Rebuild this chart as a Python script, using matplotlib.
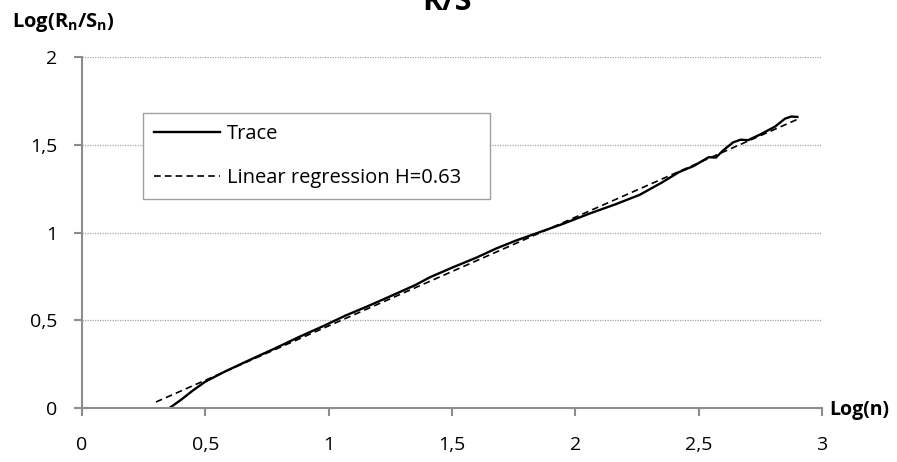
import matplotlib
matplotlib.use("Agg")
import matplotlib.pyplot as plt

plt.rcParams['font.family'] = ['Open Sans', 'DejaVu Sans']
plt.rcParams['mathtext.fontset'] = 'custom'
plt.rcParams['mathtext.rm'] = 'Open Sans'
plt.rcParams['mathtext.bf'] = 'Open Sans:bold'

# R/S trace, log10(n) against log10(R_n/S_n)
trace_x = [0.345, 0.40, 0.45, 0.50, 0.58, 0.68, 0.78, 0.88, 0.98, 1.07,
           1.15, 1.25, 1.35, 1.41, 1.50, 1.60, 1.68, 1.76, 1.86, 1.95,
           2.06, 2.16, 2.26, 2.35, 2.42, 2.48, 2.54, 2.57, 2.60, 2.64,
           2.67, 2.70, 2.75, 2.81, 2.85, 2.875, 2.90]
trace_y = [-0.01, 0.045, 0.10, 0.150, 0.208, 0.274, 0.338, 0.405, 0.468, 0.528,
           0.575, 0.637, 0.700, 0.745, 0.800, 0.858, 0.910, 0.955, 1.005, 1.050,
           1.110, 1.160, 1.215, 1.285, 1.345, 1.380, 1.430, 1.428, 1.470, 1.515,
           1.530, 1.527, 1.560, 1.605, 1.650, 1.662, 1.660]

# fitted line end points
reg_x = [0.30, 2.90]
reg_y = [0.034, 1.646]

x_ticks = [0, 0.5, 1, 1.5, 2, 2.5, 3]
y_ticks = [0, 0.5, 1, 1.5, 2]

def comma(v):
    return ('%g' % v).replace('.', ',')

grey = '#8c8c8c'
fs = 14

fig = plt.figure(figsize=(8.97, 4.62), dpi=100)
ax = fig.add_axes([0.0914, 0.117, 0.825, 0.759])

ax.plot(trace_x, trace_y, color='black', lw=1.7, label='Trace')
ax.plot(reg_x, reg_y, color='black', lw=1.2, dashes=(4, 2.5),
        label='Linear regression H=0.63')

ax.set_xlim(0, 3)
ax.set_ylim(0, 2)
ax.set_xticks(x_ticks)
ax.set_yticks(y_ticks)
ax.set_xticklabels([comma(v) for v in x_ticks], fontsize=fs)
ax.set_yticklabels([comma(v) for v in y_ticks], fontsize=fs)
ax.tick_params(axis='both', color=grey, width=1.5, length=6, direction='out')
ax.tick_params(axis='x', pad=14)
ax.tick_params(axis='y', pad=12)

for s in ['top', 'right']:
    ax.spines[s].set_visible(False)
for s in ['left', 'bottom']:
    ax.spines[s].set_color(grey)
    ax.spines[s].set_linewidth(1.5)

for v in y_ticks[1:]:
    ax.axhline(v, color='#a6a6a6', lw=0.9, ls=(0, (1, 1)), zorder=0)

ax.legend(loc='upper left', bbox_to_anchor=(0.0824, 0.842, 0.4689, 0), mode='expand',
          borderaxespad=0, fancybox=False, edgecolor='#a0a0a0', framealpha=1,
          fontsize=14.5, handlelength=3.3, handletextpad=0.3, labelspacing=1.2,
          borderpad=0.55)
ax.get_legend().get_frame().set_linewidth(1.0)

fig.text(0.013, 1 - 22 / 462, r'$\mathbf{Log(R_n/S_n)}$', fontsize=14.5,
         ha='left', va='center')
fig.text(0.925, 1 - 410 / 462, 'Log(n)', fontsize=14, weight='bold',
         ha='left', va='center')
fig.text(0.498, 1 - 10 / 462, 'R/S', fontsize=22, weight='bold',
         ha='center', va='baseline')

fig.savefig('out.png', dpi=100)
